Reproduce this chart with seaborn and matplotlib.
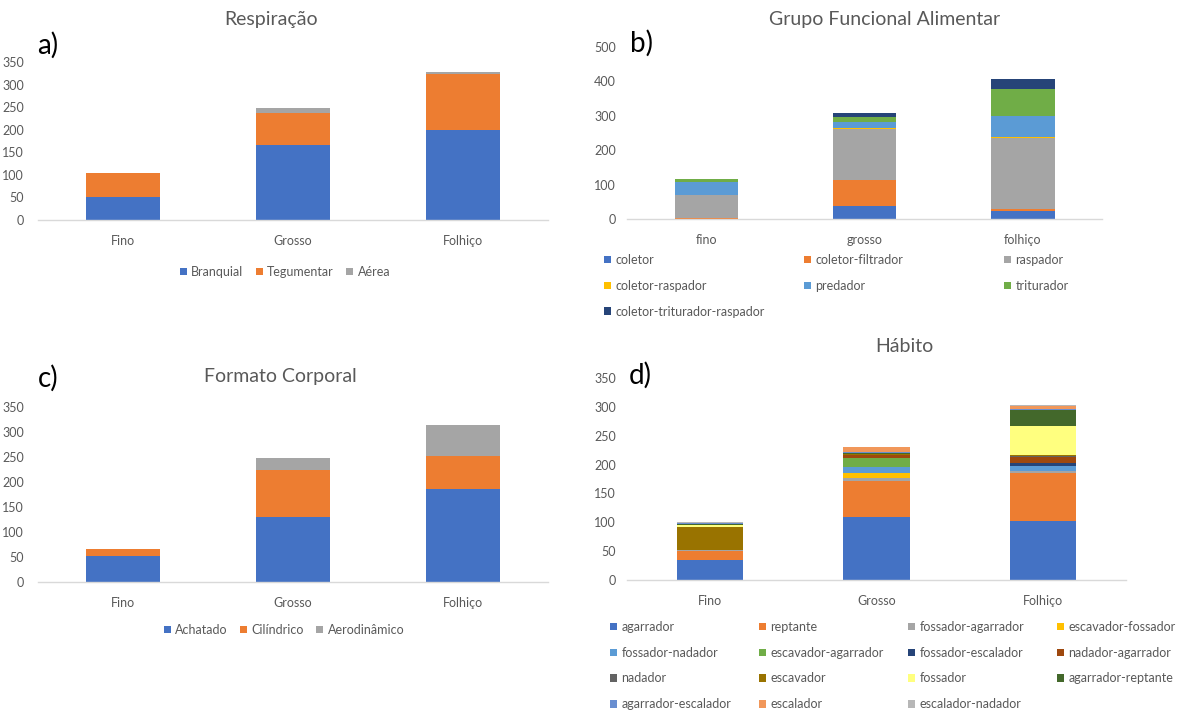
import matplotlib
matplotlib.use("Agg")
import matplotlib.pyplot as plt
from matplotlib.patches import Patch
import numpy as np
import seaborn as sns

W, H = 1189, 710

# ---- data ----
resp_cats = ["Fino", "Grosso", "Folhiço"]
resp_labels = ["Branquial", "Tegumentar", "Aérea"]
branquial = [52, 166, 199]
tegumentar = [52, 71, 125]
aerea = [1, 11, 3]

gfa_cats = ["fino", "grosso", "folhiço"]
gfa_labels = ["coletor", "coletor-filtrador", "raspador", "coletor-raspador",
              "predador", "triturador", "coletor-triturador-raspador"]
coletor = [0, 39, 22]
coletor_filtrador = [3, 74, 6]
raspador = [66, 148, 207]
coletor_raspador = [0, 3, 4]
predador = [40, 19, 61]
triturador = [7, 13, 77]
coletor_trit_rasp = [0, 12, 29]

form_cats = ["Fino", "Grosso", "Folhiço"]
form_labels = ["Achatado", "Cilíndrico", "Aerodinâmico"]
achatado = [53, 130, 186]
cilindrico = [14, 94, 67]
aerodinamico = [0, 24, 62]

hab_cats = ["Fino", "Grosso", "Folhiço"]
hab_labels = ["agarrador", "reptante", "fossador-agarrador", "escavador-fossador",
              "fossador-nadador", "escavador-agarrador", "fossador-escalador",
              "nadador-agarrador", "nadador", "escavador", "fossador",
              "agarrador-reptante", "agarrador-escalador", "escalador",
              "escalador-nadador"]
agarrador = [35, 110, 102]
reptante = [15, 61, 83]
fossador_agarrador = [2, 6, 3]
escavador_fossador = [0, 9, 1]
fossador_nadador = [0, 9, 8]
escavador_agarrador = [0, 17, 0]
fossador_escalador = [0, 0, 5]
nadador_agarrador = [0, 4, 11]
nadador = [0, 1, 1]
escavador = [39, 1, 3]
fossador = [4, 1, 49]
agarrador_reptante = [2, 1, 29]
agarrador_escalador = [2, 1, 1]
escalador = [0, 9, 5]
escalador_nadador = [1, 1, 3]

colors = ["#4472C4", "#ED7D31", "#A5A5A5", "#FFC000", "#5B9BD5", "#70AD47",
          "#264478", "#9E480E", "#636363", "#997300", "#FFFF7F", "#43682B",
          "#698ED0", "#F1975A", "#B7B7B7"]

TXT = "#595959"

sns.set_theme(style="white")
plt.rcParams["font.family"] = ["Lato", "DejaVu Sans"]

fig = plt.figure(figsize=(W / 100, H / 100), dpi=100)


def stacked(rect, cats, series, ymax, step, width, pad_y):
    ax = fig.add_axes(rect)
    cum = np.cumsum(np.array(series), axis=0)
    # draw tallest cumulative first so lower segments sit on top of it
    for i in range(len(series) - 1, -1, -1):
        sns.barplot(x=cats, y=cum[i], color=colors[i], saturation=1,
                    width=width, errorbar=None, ax=ax, linewidth=0)
    ax.set_xlim(-0.5, len(cats) - 0.5)
    ax.set_ylim(0, ymax)
    ax.set_yticks(range(0, ymax + 1, step))
    ax.set_xlabel("")
    ax.set_ylabel("")
    for s in ["top", "right", "left"]:
        ax.spines[s].set_visible(False)
    ax.spines["bottom"].set_color("#D9D9D9")
    ax.spines["bottom"].set_linewidth(1)
    ax.tick_params(axis="both", length=0, labelsize=9, colors=TXT)
    ax.tick_params(axis="x", pad=11)
    ax.tick_params(axis="y", pad=pad_y)
    ax.grid(False)
    return ax


def legend_grid(labels, ncols, x0, colw, ytop, spacing=1.1):
    handles = [Patch(facecolor=colors[i], edgecolor="none") for i in range(len(labels))]
    for c in range(ncols):
        idx = list(range(c, len(labels), ncols))
        fig.legend([handles[i] for i in idx], [labels[i] for i in idx],
                   loc="upper left", bbox_to_anchor=((x0 + c * colw) / W, 1 - ytop / H),
                   frameon=False, fontsize=9, handlelength=0.55, handleheight=0.55,
                   handletextpad=0.35, labelspacing=spacing, borderpad=0,
                   borderaxespad=0, labelcolor=TXT)


def legend_row(labels, cx, cy):
    handles = [Patch(facecolor=colors[i], edgecolor="none") for i in range(len(labels))]
    fig.legend(handles, labels, loc="center", bbox_to_anchor=(cx / W, 1 - cy / H),
               ncol=len(labels), frameon=False, fontsize=9, handlelength=0.55,
               handleheight=0.55, handletextpad=0.35, columnspacing=1.0,
               labelcolor=TXT)


def px_rect(x0, x1, ytop, ybot):
    return [x0 / W, 1 - ybot / H, (x1 - x0) / W, (ybot - ytop) / H]


# a) Respiração
stacked(px_rect(38, 548, 62, 220), resp_cats, [branquial, tegumentar, aerea], 350, 50, 0.43, 10)
legend_row(resp_labels, 285, 272)

# b) Grupo Funcional Alimentar
stacked(px_rect(627, 1102, 47, 219), gfa_cats,
        [coletor, coletor_filtrador, raspador, coletor_raspador, predador,
         triturador, coletor_trit_rasp], 500, 100, 0.4, 8)
legend_grid(gfa_labels, 3, 604, 200, 254)

# c) Formato Corporal
stacked(px_rect(38, 548, 407, 582), form_cats, [achatado, cilindrico, aerodinamico], 350, 50, 0.43, 10)
legend_row(form_labels, 284, 630)

# d) Hábito
stacked(px_rect(627, 1126, 378, 580), hab_cats,
        [agarrador, reptante, fossador_agarrador, escavador_fossador, fossador_nadador,
         escavador_agarrador, fossador_escalador, nadador_agarrador, nadador, escavador,
         fossador, agarrador_reptante, agarrador_escalador, escalador, escalador_nadador],
        350, 50, 0.4, 8)
legend_grid(hab_labels, 4, 610, 149, 621)

# titles and panel letters
for txt, x, y in [("Respiração", 271, 20), ("Grupo Funcional Alimentar", 885, 20),
                  ("Formato Corporal", 280, 377), ("Hábito", 904, 347)]:
    fig.text(x / W, 1 - y / H, txt, ha="center", va="center", fontsize=14, color=TXT)
for txt, x, y in [("a)", 48, 45), ("b)", 642, 43), ("c)", 48, 378), ("d)", 640, 375)]:
    fig.text(x / W, 1 - y / H, txt, ha="center", va="center", fontsize=20, color="black")

fig.savefig("out.png", dpi=100, facecolor="white")
